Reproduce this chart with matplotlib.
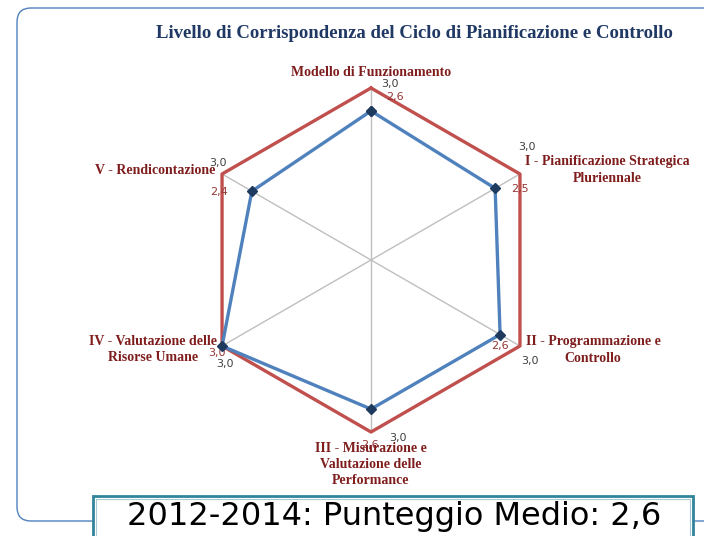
import numpy as np
import matplotlib
matplotlib.use("Agg")
from matplotlib import pyplot as plt
from matplotlib.patches import FancyBboxPatch, Rectangle
from matplotlib.transforms import IdentityTransform

# categories, clockwise from the top
categories = ['Modello di Funzionamento',
              'I - Pianificazione Strategica\nPluriennale',
              'II - Programmazione e\nControllo',
              'III - Misurazione e\nValutazione delle\nPerformance',
              'IV - Valutazione delle\nRisorse Umane',
              'V - Rendicontazione']
target = [3.0, 3.0, 3.0, 3.0, 3.0, 3.0]
score = [2.6, 2.5, 2.6, 2.6, 3.0, 2.4]
title = 'Livello di Corrispondenza del Ciclo di Pianificazione e Controllo'
footer = '2012-2014: Punteggio Medio: 2,6'

# label offsets in pixels (Excel-like data label placement)
cat_off = [(0, 15), (87, 4), (73, -4), (0, -32), (-69, -3), (-67, 4)]
tgt_off = [(19, 4), (7, 27), (10, -15), (27, -6), (3, -18), (-4, 11)]
scr_off = [(24, 14), (25, -1), (0, -11), (-1, -36), (-5, -7), (-33, -1)]

def fmt(v):
    return ('%.1f' % v).replace('.', ',')

fig = plt.figure(figsize=(7.04, 5.36), dpi=100)

# slide frame (pixel coordinates)
frame = FancyBboxPatch((17, 15), 740, 513, boxstyle='round,pad=0,rounding_size=14',
                       transform=IdentityTransform(), fill=False,
                       edgecolor='#4F81BD', linewidth=1.0)
fig.patches.append(frame)

# polar axes, center at (371, 260) px, radius 172 px
cx, cy, R = 371, 260, 172
ax = fig.add_axes([(cx - R) / 704, (536 - cy - R) / 536, 2 * R / 704, 2 * R / 536],
                  projection='polar')
ax.set_theta_zero_location('N')
ax.set_theta_direction(-1)
ax.set_ylim(0, 3.0)
ax.patch.set_alpha(0)
ax.spines['polar'].set_visible(False)

n = len(categories)
theta = np.linspace(0, 2 * np.pi, n, endpoint=False)
ax.set_xticks(theta)
ax.set_xticklabels([])
ax.set_yticks([])
ax.xaxis.grid(True, color='#BFBFBF', linewidth=1.0)
ax.yaxis.grid(False)

th_closed = np.append(theta, theta[0])
ax.plot(th_closed, target + target[:1], color='#C0504D', linewidth=2.4,
        clip_on=False, zorder=3)
ax.plot(th_closed, score + score[:1], color='#4F81BD', linewidth=2.4,
        marker='D', markersize=5, markerfacecolor='#1F3A5F',
        markeredgecolor='#1F3A5F', clip_on=False, zorder=4)

for i in range(n):
    ax.annotate(categories[i], xy=(theta[i], target[i]), xytext=cat_off[i],
                textcoords='offset pixels', ha='center', va='center',
                fontsize=10, family='Liberation Serif', fontweight='bold',
                color='#7F1D1D', linespacing=1.3, annotation_clip=False,
                zorder=5)
    ax.annotate(fmt(target[i]), xy=(theta[i], target[i]), xytext=tgt_off[i],
                textcoords='offset pixels', ha='center', va='center',
                fontsize=8, color='#404040', annotation_clip=False)
    ax.annotate(fmt(score[i]), xy=(theta[i], score[i]), xytext=scr_off[i],
                textcoords='offset pixels', ha='center', va='center',
                fontsize=8, color='#943634', annotation_clip=False)

fig.text(414 / 704, 1 - 33 / 536, title, ha='center', va='center',
         fontsize=13.5, family='Liberation Serif', fontweight='bold', color='#1F3864')

# footer box
box_out = Rectangle((93, -5), 600, 45, transform=IdentityTransform(),
                    facecolor='white', edgecolor='#31849B', linewidth=2.0)
box_in = Rectangle((96, -5), 594, 42, transform=IdentityTransform(),
                   fill=False, edgecolor='#A5CAD6', linewidth=0.8)
fig.patches.append(box_out)
fig.patches.append(box_in)
fig.text(394 / 704, 1 - 517 / 536, footer, ha='center', va='center',
         fontsize=23, family='DejaVu Sans', color='black')

fig.savefig('out.png', dpi=100)
